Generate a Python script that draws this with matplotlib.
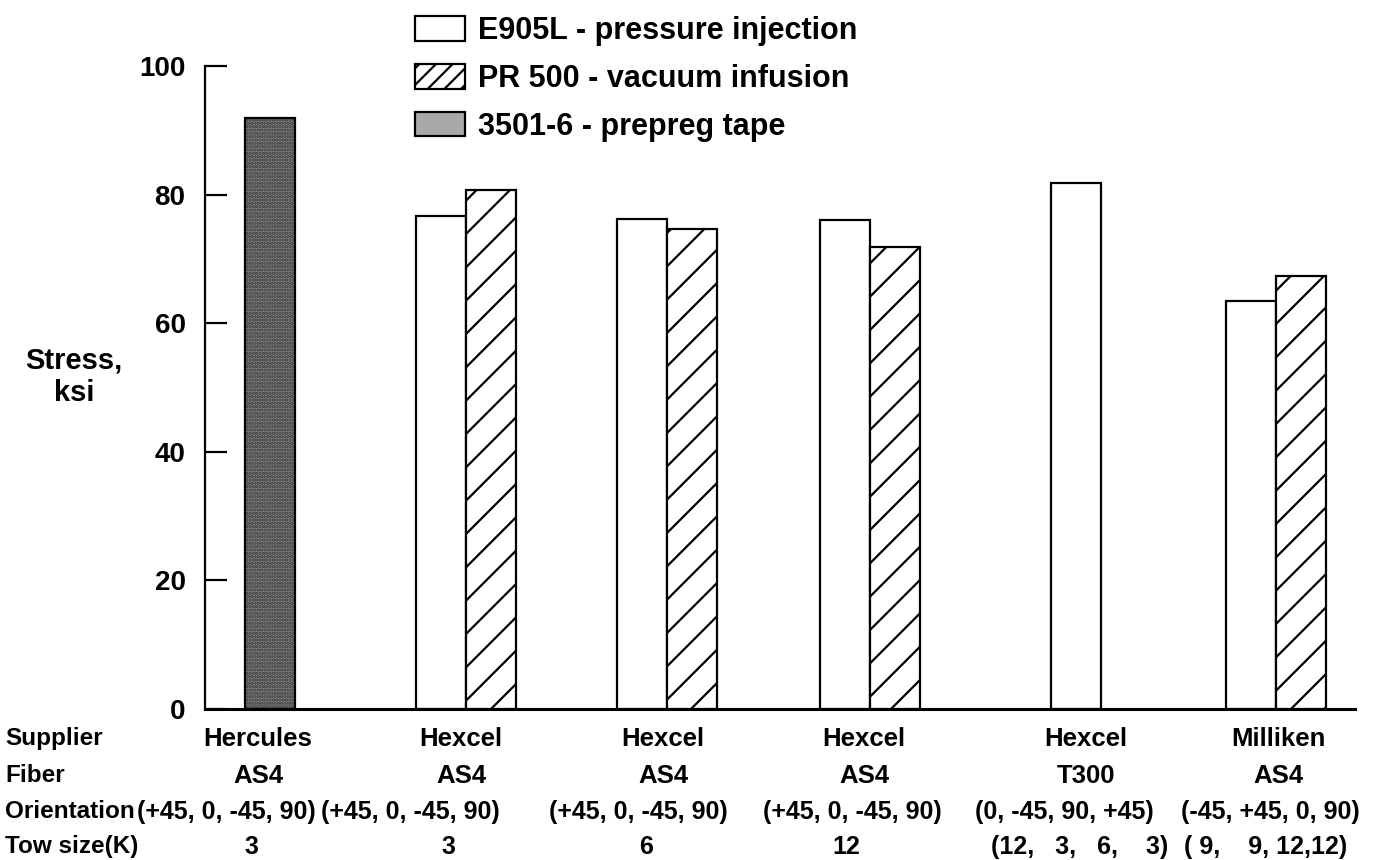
import numpy as np
import matplotlib
matplotlib.use("Agg")
import matplotlib.pyplot as plt
from matplotlib.patches import Patch
from matplotlib.transforms import blended_transform_factory

plt.rcParams['font.family'] = ['Liberation Sans', 'DejaVu Sans']
plt.rcParams['font.weight'] = 'bold'
plt.rcParams['hatch.linewidth'] = 1.6

# data
suppliers = ["Hercules", "Hexcel", "Hexcel", "Hexcel", "Hexcel", "Milliken"]
fibers = ["AS4", "AS4", "AS4", "AS4", "T300", "AS4"]
orientations = ["(+45, 0, -45, 90)", "(+45, 0, -45, 90)", "(+45, 0, -45, 90)",
                "(+45, 0, -45, 90)", "(0, -45, 90, +45)", "(-45, +45, 0, 90)"]
tow_sizes = ["3", "3", "6", "12", "(12,   3,   6,    3)", "( 9,    9, 12,12)"]
e905 = [np.nan, 76.7, 76.2, 76.0, 81.8, 63.5]
pr500 = [np.nan, 80.7, 74.6, 71.8, np.nan, 67.3]
prepreg = [91.9, np.nan, np.nan, np.nan, np.nan, np.nan]
series_names = ["E905L - pressure injection", "PR 500 - vacuum infusion",
                "3501-6 - prepreg tape"]
yticks = [0, 20, 40, 60, 80, 100]

# layout (x axis runs in figure-pixel-like units)
group_x = [270, 466, 667, 870, 1076, 1276]
label_x = [258, 461, 663, 864, 1086, 1278]
orient_x = [226, 410, 638, 852, 1064, 1270]
tow_x = [251, 448, 646, 846, 1080, 1266]
bw = 50

W, H = 1373, 860
fig = plt.figure(figsize=(W / 100, H / 100), dpi=100)
ax = fig.add_axes([205 / W, (H - 709) / H, (1355 - 205) / W, (709 - 66) / H])
ax.set_xlim(205, 1355)
ax.set_ylim(0, 100)

for i, gx in enumerate(group_x):
    vals = [(v, k) for k, v in enumerate([e905[i], pr500[i], prepreg[i]]) if not np.isnan(v)]
    n = len(vals)
    for j, (v, k) in enumerate(vals):
        x = gx + (j - (n - 1) / 2) * bw
        if k == 0:
            ax.bar(x, v, bw, color='white', edgecolor='black', linewidth=1.6)
        elif k == 1:
            ax.bar(x, v, bw, color='white', edgecolor='black', linewidth=1.6, hatch='/')
        else:
            ax.bar(x, v, bw, color='#858585', edgecolor='#333333', linewidth=0, hatch='.....')
            ax.bar(x, v, bw, color='none', edgecolor='black', linewidth=1.6)

for s in ['top', 'right']:
    ax.spines[s].set_visible(False)
ax.spines['left'].set_linewidth(1.6)
ax.spines['bottom'].set_linewidth(2.2)
ax.set_xticks([])
ax.set_yticks(yticks)
ax.tick_params(axis='y', direction='in', length=16, width=1.6, pad=14, labelsize=20)

fig.text(74 / W, 1 - 377 / H, "Stress,\nksi", ha='center', va='center',
         fontsize=21, linespacing=1.2)

# table under the axis
tr = blended_transform_factory(ax.transData, fig.transFigure)
rows = [("Supplier", suppliers, label_x, 739),
        ("Fiber", fibers, label_x, 776),
        ("Orientation", orientations, orient_x, 812),
        ("Tow size(K)", tow_sizes, tow_x, 847)]
for name, texts, xs, yp in rows:
    fig.text(5 / W, 1 - yp / H, name, ha='left', va='center', fontsize=17.5)
    for t, x in zip(texts, xs):
        ax.text(x, 1 - yp / H, t, transform=tr, ha='center', va='center',
                fontsize=18.5 if name in ("Supplier", "Fiber") else 18, clip_on=False)

handles = [Patch(facecolor='white', edgecolor='black', linewidth=1.6),
           Patch(facecolor='white', edgecolor='black', linewidth=1.6, hatch='//'),
           Patch(facecolor='#a9a9a9', edgecolor='black', linewidth=1.6)]
fig.legend(handles, series_names, loc='upper left',
           bbox_to_anchor=(415 / W, 1 - 16 / H), frameon=False,
           prop={'weight': 'bold', 'size': 22},
           borderaxespad=0, borderpad=0,
           handlelength=1.63, handleheight=0.88, handletextpad=0.42, labelspacing=0.58)

fig.savefig("out.png", dpi=100)
